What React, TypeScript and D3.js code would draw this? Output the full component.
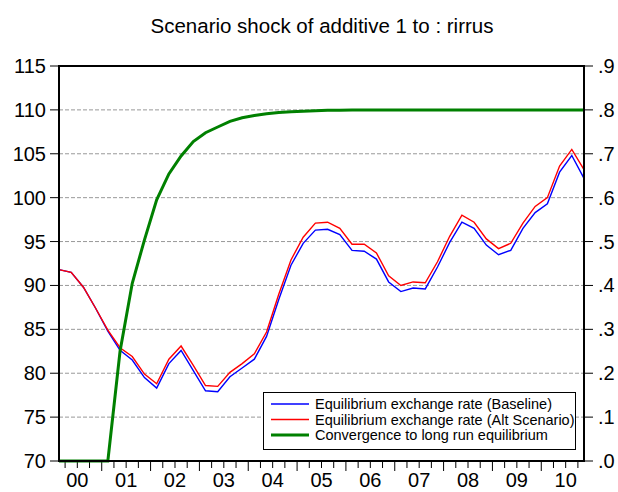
import React, { useEffect, useRef } from 'react'
import * as d3 from 'd3'

// years shown on the axis, quarterly data 2000Q1..2010Q4
const years = ['00', '01', '02', '03', '04', '05', '06', '07', '08', '09', '10']
const quarters = d3.cross(years, ['Q1', 'Q2', 'Q3', 'Q4']).map(([y, q]) => y + q)

const baseline = [
  91.8, 91.5, 89.8, 87.4, 84.8, 82.6, 81.5, 79.5, 78.3, 81.1, 82.6,
  80.3, 78.0, 77.9, 79.6, 80.6, 81.6, 84.2, 88.4, 92.3, 94.8, 96.3,
  96.4, 95.8, 94.0, 93.9, 93.0, 90.4, 89.3, 89.7, 89.6, 92.1, 94.9,
  97.2, 96.5, 94.6, 93.5, 94.0, 96.5, 98.3, 99.3, 102.9, 104.8, 102.2
]
const altScenario = [
  91.8, 91.5, 89.8, 87.4, 84.9, 82.9, 81.9, 79.9, 78.8, 81.6, 83.1,
  80.9, 78.6, 78.5, 80.1, 81.1, 82.2, 84.7, 89.0, 92.9, 95.5, 97.1,
  97.2, 96.5, 94.7, 94.7, 93.7, 91.1, 90.0, 90.4, 90.3, 92.7, 95.6,
  98.0, 97.2, 95.3, 94.2, 94.8, 97.1, 99.0, 100.0, 103.6, 105.5, 103.2
]
// right axis
const convergence = [
  0, 0, 0, 0, 0, 0.25, 0.405, 0.504, 0.595, 0.654, 0.695,
  0.728, 0.748, 0.761, 0.774, 0.782, 0.787, 0.791, 0.794, 0.796, 0.797, 0.798,
  0.799, 0.799, 0.8, 0.8, 0.8, 0.8, 0.8, 0.8, 0.8, 0.8, 0.8,
  0.8, 0.8, 0.8, 0.8, 0.8, 0.8, 0.8, 0.8, 0.8, 0.8, 0.8
]
const leftTicks = [70, 75, 80, 85, 90, 95, 100, 105, 110, 115]
const rightTicks = [0, 0.1, 0.2, 0.3, 0.4, 0.5, 0.6, 0.7, 0.8, 0.9]
const legendLabels = [
  'Equilibrium exchange rate (Baseline)',
  'Equilibrium exchange rate (Alt Scenario)',
  'Convergence to long run equilibrium'
]
const title = 'Scenario shock of additive 1 to : rirrus'

export default function App() {
  const ref = useRef<SVGSVGElement>(null)

  useEffect(() => {
    const svg = d3.select(ref.current)
    svg.selectAll('*').remove()

    const left = 59, right = 584, top = 66, bottom = 461
    const font = 'Liberation Sans, Arial, sans-serif'

    const x = d3.scaleLinear().domain([0, quarters.length - 1]).range([left, right])
    const yL = d3.scaleLinear().domain([70, 115]).range([bottom, top])
    const yR = d3.scaleLinear().domain([0, 0.9]).range([bottom, top])

    svg.append('text')
      .attr('x', 322).attr('y', 33)
      .attr('text-anchor', 'middle')
      .attr('font-family', font).attr('font-size', 20.5)
      .text(title)

    // grid
    svg.append('g').selectAll('line')
      .data(leftTicks.slice(1, -1))
      .enter().append('line')
      .attr('x1', left).attr('x2', right)
      .attr('y1', d => yL(d)).attr('y2', d => yL(d))
      .attr('stroke', '#999').attr('stroke-width', 1)
      .attr('stroke-dasharray', '4,2')

    // left axis
    const gl = svg.append('g')
    gl.selectAll('line').data(leftTicks).enter().append('line')
      .attr('x1', left - 9).attr('x2', left)
      .attr('y1', d => yL(d)).attr('y2', d => yL(d))
      .attr('stroke', '#000')
    gl.selectAll('text').data(leftTicks).enter().append('text')
      .attr('x', 46).attr('y', d => yL(d) + 7)
      .attr('text-anchor', 'end')
      .attr('font-family', font).attr('font-size', 20)
      .text(d => d)

    // right axis
    const fmt = d3.format('.1f')
    const gr = svg.append('g')
    gr.selectAll('line').data(rightTicks).enter().append('line')
      .attr('x1', right).attr('x2', right + 9)
      .attr('y1', d => yR(d)).attr('y2', d => yR(d))
      .attr('stroke', '#000')
    gr.selectAll('text').data(rightTicks).enter().append('text')
      .attr('x', 598).attr('y', d => yR(d) + 7)
      .attr('font-family', font).attr('font-size', 20)
      .text(d => fmt(d).replace(/^0/, ''))

    // bottom axis: ticks between quarters, long at year boundary
    const mids = d3.range(quarters.length - 1)
    svg.append('g').selectAll('line').data(mids).enter().append('line')
      .attr('x1', d => x(d + 0.5)).attr('x2', d => x(d + 0.5))
      .attr('y1', bottom).attr('y2', d => (d + 1) % 4 === 0 ? bottom + 10 : bottom + 7)
      .attr('stroke', '#000')
    svg.append('g').selectAll('text').data(years).enter().append('text')
      .attr('x', (d, i) => x(i * 4 + 1.5))
      .attr('y', 487)
      .attr('text-anchor', 'middle')
      .attr('font-family', font).attr('font-size', 20)
      .text(d => d)

    // series
    const lineL = d3.line<number>().x((d, i) => x(i)).y(d => yL(d))
    const lineR = d3.line<number>().x((d, i) => x(i)).y(d => yR(d))
    svg.append('path').datum(baseline)
      .attr('d', lineL).attr('fill', 'none')
      .attr('stroke', '#0000ff').attr('stroke-width', 1.4)
    svg.append('path').datum(altScenario)
      .attr('d', lineL).attr('fill', 'none')
      .attr('stroke', '#ff0000').attr('stroke-width', 1.4)
    svg.append('path').datum(convergence)
      .attr('d', lineR).attr('fill', 'none')
      .attr('stroke', '#008000').attr('stroke-width', 3)

    // frame
    svg.append('rect')
      .attr('x', left).attr('y', top)
      .attr('width', right - left).attr('height', bottom - top)
      .attr('fill', 'none').attr('stroke', '#000').attr('stroke-width', 2)

    // legend
    const lg = svg.append('g')
    lg.append('rect')
      .attr('x', 263.5).attr('y', 392.5).attr('width', 312).attr('height', 57)
      .attr('fill', '#fff').attr('stroke', '#000')
    const colors = ['#0000ff', '#ff0000', '#008000']
    const widths = [1.4, 1.4, 3]
    legendLabels.forEach((t, i) => {
      const yy = 404 + i * 15.5
      lg.append('line')
        .attr('x1', 271).attr('x2', 309).attr('y1', yy).attr('y2', yy)
        .attr('stroke', colors[i]).attr('stroke-width', widths[i])
      lg.append('text')
        .attr('x', 315).attr('y', yy + 5)
        .attr('font-family', font).attr('font-size', 14.5)
        .text(t)
    })
  }, [])

  return <svg ref={ref} width={618} height={492}
    style={{ position: 'absolute', left: 0, top: 0, background: '#fff' }} />
}
